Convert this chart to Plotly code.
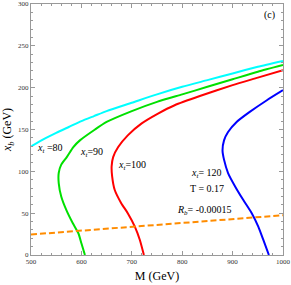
import plotly.graph_objects as go

# Curve data (M in GeV, x_b in GeV)
cyan_M = [501, 527, 550, 575, 600, 625, 650, 700, 750, 800, 850, 900, 950, 1000]
cyan_xb = [130, 139, 146, 153, 160, 166, 172, 182, 192, 201, 209, 217, 225, 232]

green_M = [607, 600, 594, 583, 570, 560, 555, 555, 560, 571, 584, 597, 627, 650, 700, 750, 800, 850, 900, 950, 1000]
green_xb = [0, 14, 26, 38, 54, 70, 86, 98, 108, 117, 129, 137, 150, 159, 172, 183, 192, 201, 210, 219, 227]

red_M = [724, 716, 706, 692, 679, 666, 661, 660, 663, 673, 692, 719, 752, 785, 835, 900, 950, 1000]
red_xb = [0, 18, 34, 50, 62, 78, 94, 106, 117, 129, 143, 157, 169, 179, 190, 203, 212, 221]

blue_M = [972, 961, 951, 938, 921, 905, 891, 883, 880, 883, 891, 908, 934, 968, 1000]
blue_xb = [0, 18, 34, 50, 66, 82, 98, 114, 125, 137, 147, 159, 171, 185, 197]

rb_M = [500, 600, 700, 800, 900, 1000]
rb_xb = [24.5, 29, 33.5, 38, 43, 47.5]

x_ticks = [500, 600, 700, 800, 900, 1000]
y_ticks = [0, 50, 100, 150, 200, 250, 300]

SERIF = "Liberation Serif, Times New Roman, serif"

fig = go.Figure()
for M, xb, col in [(cyan_M, cyan_xb, "#00FFFF"), (green_M, green_xb, "#00E000"),
                   (red_M, red_xb, "#FF0000"), (blue_M, blue_xb, "#0000FF")]:
    fig.add_trace(go.Scatter(x=M, y=xb, mode="lines", line=dict(color=col, width=2, shape="spline", smoothing=0.6),
                             hoverinfo="skip", showlegend=False))
fig.add_trace(go.Scatter(x=rb_M, y=rb_xb, mode="lines", line=dict(color="#FF8C00", width=2, dash="6px,3px"),
                         hoverinfo="skip", showlegend=False))

ann_font = dict(family=SERIF, size=10, color="#000")
annotations = [
    dict(x=0.946, y=0.955, text="(c)"),
    dict(x=0.076, y=0.425, text="<i>x</i><sub><i>t</i></sub> =80"),
    dict(x=0.24, y=0.41, text="<i>x</i><sub><i>t</i></sub>=90"),
    dict(x=0.40, y=0.355, text="<i>x</i><sub><i>t</i></sub>=100"),
    dict(x=0.695, y=0.325, text="<i>x</i><sub><i>t</i></sub>= 120"),
    dict(x=0.70, y=0.265, text="T = 0.17"),
    dict(x=0.69, y=0.178, text="<i>R</i><sub><i>b</i></sub>= -0.00015"),
]
for a in annotations:
    fig.add_annotation(xref="paper", yref="paper", showarrow=False, font=ann_font,
                       xanchor="center", yanchor="middle", **a)

axis_common = dict(showgrid=False, zeroline=False, showline=True, linecolor="#999999", linewidth=1,
                   mirror="allticks", ticks="inside", ticklen=4, tickcolor="#999999", automargin=False,
                   tickfont=dict(family=SERIF, size=7, color="#333333"))
fig.update_xaxes(range=[500, 1000], tickvals=x_ticks, ticktext=[str(v) for v in x_ticks],
                 minor=dict(dtick=20, ticklen=2, tickcolor="#999999", ticks="inside"),
                 title=dict(text="M (GeV)", font=dict(family=SERIF, size=12, color="#000"), standoff=6),
                 **axis_common)
fig.update_yaxes(range=[0, 300], tickvals=y_ticks, ticktext=[str(v) for v in y_ticks],
                 minor=dict(dtick=10, ticklen=2, tickcolor="#999999", ticks="inside"),
                 title=dict(text="<i>x</i><sub><i>b</i></sub> (GeV)", font=dict(family=SERIF, size=12, color="#000"), standoff=4),
                 **axis_common)
fig.update_layout(width=291, height=285, margin=dict(l=31, r=8, t=4, b=30),
                  plot_bgcolor="white", paper_bgcolor="white")
fig.write_html("out.html", config={"displayModeBar": False},
               post_script="document.body.style.margin='0';document.body.style.overflow='hidden';")
